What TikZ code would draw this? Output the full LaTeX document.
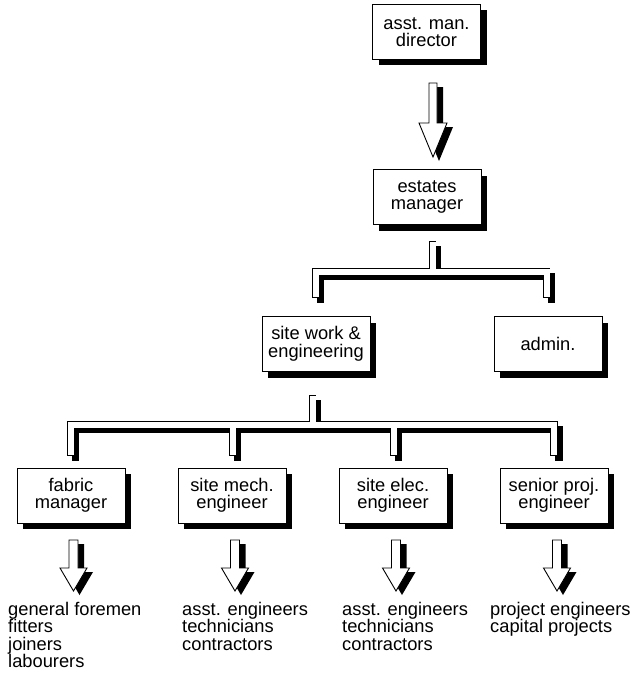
\documentclass[tikz,border=0pt]{standalone}
\usepackage{fontspec}
\setmainfont{Liberation Sans}
\usetikzlibrary{calc,shadows}
\newcommand\boxfont{\fontsize{18.3pt}{17.5pt}\selectfont}
\newcommand\blockarrow[5]{%
  \fill[black, transform canvas={shift={(6pt,-4pt)}}]
    ($(#1)+(-#3,0)$) -- ($(#2)+(-#3,-#5)$) -- ($(#2)+(-#4,-#5)$) -- (#2) --
    ($(#2)+(#4,-#5)$) -- ($(#2)+(#3,-#5)$) -- ($(#1)+(#3,0)$) -- cycle;
  \filldraw[fill=white, draw=black, line width=0.9pt, line join=miter]
    ($(#1)+(-#3,0)$) -- ($(#2)+(-#3,-#5)$) -- ($(#2)+(-#4,-#5)$) -- (#2) --
    ($(#2)+(#4,-#5)$) -- ($(#2)+(#3,-#5)$) -- ($(#1)+(#3,0)$) -- cycle;
}
\tikzset{
  box/.style={draw=black, line width=0.9pt, fill=white, minimum width=108pt,
    minimum height=55pt, inner sep=0pt, align=center, font=\boxfont,
    general shadow={fill=black, shadow xshift=6pt, shadow yshift=-6pt}},
  pipeout/.style={draw=black, line width=7.5pt, line cap=rect, line join=miter},
  pipein/.style={draw=white, line width=6pt, line cap=rect, line join=miter},
  pipeshadow/.style={pipeout, transform canvas={shift={(5pt,-5pt)}}},
  list/.style={anchor=north west, align=left, inner sep=0pt, font=\boxfont}
}
\begin{document}
\begin{tikzpicture}[x=1pt,y=-1pt]
\useasboundingbox (0,0) rectangle (632,677);

% boxes
\node[box] (amd) at (426.5,32) {asst. man.\\director};
\node[box] (em)  at (427,197) {estates\\manager};
\node[box] (sw)  at (316,344) {site work \&\\engineering};
\node[box] (adm) at (548,344) {admin.};
\node[box] (fm)  at (71,495.5)  {fabric\\manager};
\node[box] (sme) at (232,495.5) {site mech.\\engineer};
\node[box] (see) at (393,495.5) {site elec.\\engineer};
\node[box] (spe) at (554,495.5) {senior proj.\\engineer};

% pipe 1 coordinates
\coordinate (p1s) at (432.5,244.75);
\coordinate (p1j) at (432.5,271.5);
\coordinate (p1l) at (315.5,271.5);
\coordinate (p1r) at (546.5,271.5);
\coordinate (p1le) at (315.5,294.25);
\coordinate (p1re) at (546.5,294.25);
% pipe 2 coordinates
\coordinate (p2s) at (312.5,398.75);
\coordinate (p2j) at (312.5,424.5);
\coordinate (p2a) at (70.5,424.5);
\coordinate (p2b) at (232.5,424.5);
\coordinate (p2c) at (393.5,424.5);
\coordinate (p2d) at (554,424.5);
\coordinate (p2ae) at (70.5,452.25);
\coordinate (p2be) at (232.5,452.25);
\coordinate (p2ce) at (393.5,452.25);
\coordinate (p2de) at (554,452.25);

% pipe shadows
\draw[pipeshadow] (p1le) -- (p1l) -- (p1r) -- (p1re);
\draw[pipeshadow] (p1s) -- (p1j);
\draw[pipeshadow] (p2ae) -- (p2a) -- (p2d) -- (p2de);
\draw[pipeshadow] (p2s) -- (p2j);
\draw[pipeshadow] (p2b) -- (p2be);
\draw[pipeshadow] (p2c) -- (p2ce);
% pipe outlines
\draw[pipeout] (p1le) -- (p1l) -- (p1r) -- (p1re);
\draw[pipeout] (p1s) -- (p1j);
\draw[pipeout] (p2ae) -- (p2a) -- (p2d) -- (p2de);
\draw[pipeout] (p2s) -- (p2j);
\draw[pipeout] (p2b) -- (p2be);
\draw[pipeout] (p2c) -- (p2ce);
% pipe interiors
\draw[pipein] (p1le) -- (p1l) -- (p1r) -- (p1re);
\draw[pipein] (p1s) -- (p1j);
\draw[pipein] (p2ae) -- (p2a) -- (p2d) -- (p2de);
\draw[pipein] (p2s) -- (p2j);
\draw[pipein] (p2b) -- (p2be);
\draw[pipein] (p2c) -- (p2ce);

% block arrows
\coordinate (a0s) at (433,83);  \coordinate (a0t) at (433,157);
\blockarrow{a0s}{a0t}{4}{14}{34}
\coordinate (a1s) at (73.5,540); \coordinate (a1t) at (73.5,591);
\coordinate (a2s) at (235,540);  \coordinate (a2t) at (235,591);
\coordinate (a3s) at (396,540);  \coordinate (a3t) at (396,591);
\coordinate (a4s) at (557,540);  \coordinate (a4t) at (557,591);
\blockarrow{a1s}{a1t}{4.5}{13.5}{23}
\blockarrow{a2s}{a2t}{4.5}{13.5}{23}
\blockarrow{a3s}{a3t}{4.5}{13.5}{23}
\blockarrow{a4s}{a4t}{4.5}{13.5}{23}

% lists
\node[list] (l1) at (8,602) {general foremen\\fitters\\joiners\\labourers};
\node[list] (l2) at (182,602) {asst. engineers\\technicians\\contractors};
\node[list] (l3) at (342,602) {asst. engineers\\technicians\\contractors};
\node[list] (l4) at (490,602) {project engineers\\capital projects};
\end{tikzpicture}
\end{document}
